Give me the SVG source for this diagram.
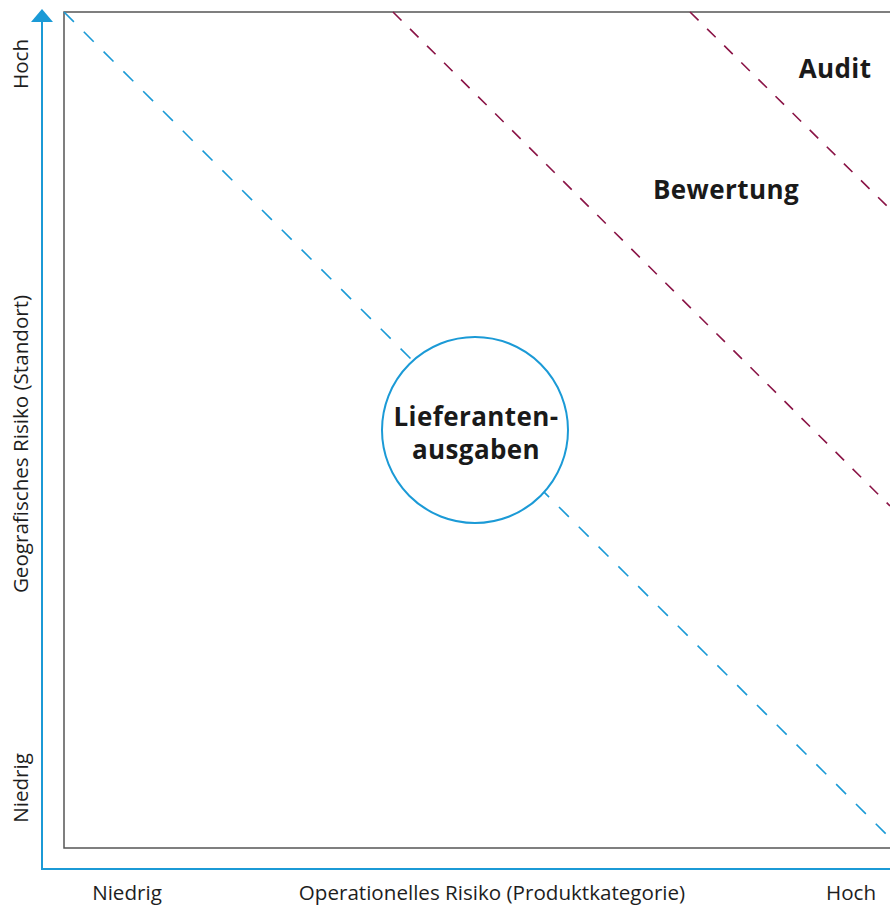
<svg xmlns="http://www.w3.org/2000/svg" width="890" height="905" viewBox="0 0 890 905">
<style>
.lbl{font-family:"Open Sans","Noto Sans","Liberation Sans",sans-serif;font-size:20.6px;fill:#1e1e1e}
.bold{font-family:"Open Sans","Noto Sans","Liberation Sans",sans-serif;font-size:26px;font-weight:bold;fill:#1a1a1a;letter-spacing:0.4px}
.blue{stroke:#1b9ad6;fill:none}
.red{stroke:#8a1446;fill:none;stroke-width:1.6;stroke-dasharray:12 12}
</style>
<rect width="890" height="905" fill="#fff"/>
<g id="frame">
<polyline points="892,12 64,12 64,848 892,848" fill="none" stroke="#555" stroke-width="1.5"/>
</g>
<g id="axes">
<polyline class="blue" points="42,20 42,869 892,869" stroke-width="2"/>
<polygon points="42,9 31,22 53,22" fill="#1b9ad6"/>
</g>
<g id="connectors">
<line class="blue" x1="64" y1="12" x2="890" y2="838" stroke-width="1.6" stroke-dasharray="14 14"/>
<line class="red" x1="393" y1="12" x2="890" y2="506"/>
<line class="red" x1="690" y1="12" x2="890" y2="209"/>
</g>
<g id="node-lieferantenausgaben">
<circle cx="475" cy="430" r="93" fill="#fff" stroke="#1b9ad6" stroke-width="2"/>
<text class="bold" x="476" y="426" text-anchor="middle">Lieferanten-</text>
<text class="bold" x="476" y="459" text-anchor="middle">ausgaben</text>
</g>
<g id="node-bewertung">
<text class="bold" x="726" y="199" text-anchor="middle">Bewertung</text>
</g>
<g id="node-audit">
<text class="bold" x="835" y="78" text-anchor="middle">Audit</text>
</g>
<g id="labels">
<text class="lbl" x="127" y="900" text-anchor="middle">Niedrig</text>
<text class="lbl" x="492" y="900" text-anchor="middle">Operationelles Risiko (Produktkategorie)</text>
<text class="lbl" x="851" y="900" text-anchor="middle">Hoch</text>
<text class="lbl" transform="translate(28,64) rotate(-90)" text-anchor="middle">Hoch</text>
<text class="lbl" transform="translate(28,444) rotate(-90)" text-anchor="middle">Geografisches Risiko (Standort)</text>
<text class="lbl" transform="translate(28,788) rotate(-90)" text-anchor="middle">Niedrig</text>
</g>
</svg>
